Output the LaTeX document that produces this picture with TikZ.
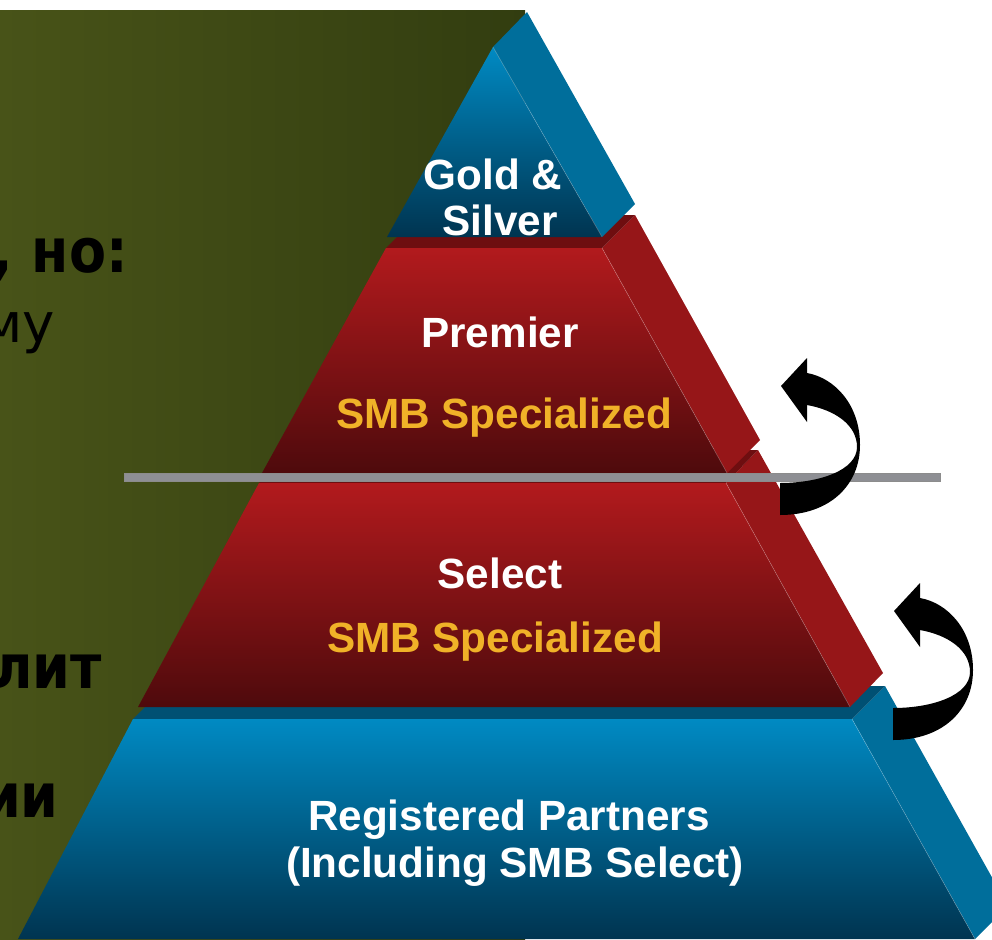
\documentclass[tikz,border=0pt]{standalone}
\usepackage{fontspec}
\setmainfont{Liberation Sans}
\newfontfamily\cyrfont{DejaVu Sans}
\newfontfamily\cyrnarrow[FakeStretch=0.88]{DejaVu Sans}
\usetikzlibrary{positioning}

\definecolor{olivel}{RGB}{72,83,24}
\definecolor{olived}{RGB}{50,61,16}
\definecolor{redtop}{RGB}{178,26,29}
\definecolor{redmid}{RGB}{135,20,22}
\definecolor{redbot}{RGB}{78,10,12}
\definecolor{redside}{RGB}{150,22,24}
\definecolor{redcap}{RGB}{110,14,16}
\definecolor{bluetop}{RGB}{0,138,195}
\definecolor{bluemid}{RGB}{0,102,148}
\definecolor{bluebot}{RGB}{0,52,80}
\definecolor{blueside}{RGB}{0,110,155}
\definecolor{bluecap}{RGB}{0,80,115}
\definecolor{rulegray}{RGB}{142,143,148}
\definecolor{smbgold}{RGB}{240,178,40}

\begin{document}
\begin{tikzpicture}[
    x=0.75pt, y=-0.75pt,
    redfront/.style={top color=redtop, middle color=redmid, bottom color=redbot},
    bluefront/.style={top color=bluetop, middle color=bluemid, bottom color=bluebot},
    edgeline/.style={white, opacity=0.3, line width=0.4pt},
    tierlabel/.style={text=white, font=\bfseries\fontsize{31.7}{34.5}\selectfont, inner sep=0pt, anchor=base},
    smblabel/.style={tierlabel, text=smbgold},
    cyrbold/.style={font=\cyrnarrow\bfseries\fontsize{46}{50}\selectfont, inner sep=0pt, anchor=base east},
    cyrplain/.style={font=\cyrfont\fontsize{41}{45}\selectfont, inner sep=0pt, anchor=base east}
]
    \useasboundingbox (0,0) rectangle (992,939);
    \clip (0,0) rectangle (992,939);

    \shade[left color=olivel, right color=olived] (0,10) rectangle (525,939);

    \node[cyrbold](but) at (128,272){, но:};
    \node[cyrplain](mu) at (55,342){му};
    \node[cyrbold](lit) at (102,688){лит};
    \node[cyrbold](ii) at (59,817){ии};

    \fill[blueside] (852,719) -- (885,686) -- (1008,906) -- (975,939) -- cycle;
    \fill[bluecap] (133,719) -- (852,719) -- (885,686) -- (166,686) -- cycle;
    \shade[bluefront] (133,719) -- (852,719) -- (975,939) -- (18,939) -- cycle;
    \draw[edgeline] (852,719) -- (975,939);

    \fill[redside] (726,483) -- (758,450) -- (883,673) -- (850,707) -- cycle;
    \fill[redcap] (259,483) -- (726,483) -- (758,450) -- (291,450) -- cycle;
    \shade[redfront] (259,483) -- (726,483) -- (850,707) -- (138,707) -- cycle;
    \draw[edgeline] (726,483) -- (850,707);

    \fill[redside] (602,248) -- (635,215) -- (760,440) -- (727,473) -- cycle;
    \fill[redcap] (386,248) -- (602,248) -- (635,215) -- (419,215) -- cycle;
    \shade[redfront] (386,248) -- (602,248) -- (727,473) -- (262,473) -- cycle;
    \draw[edgeline] (602,248) -- (727,473);

    \fill[blueside] (493,47) -- (527,12) -- (635,204) -- (602,237) -- cycle;
    \shade[bluefront] (493,47) -- (602,237) -- (387,237) -- cycle;
    \draw[edgeline] (493,47) -- (602,237);

    \fill[rulegray, draw=black!45, line width=0.3pt] (124,473) rectangle (940,481);

    \node[tierlabel](gold) at (493,189){Gold \&};
    \node[tierlabel](silver) at (500,235){Silver};
    \node[tierlabel](premier) at (500,347){Premier};
    \node[smblabel](premiersmb) at (504,428){SMB Specialized};
    \node[tierlabel](select) at (500,588){Select};
    \node[smblabel](selectsmb) at (495,652){SMB Specialized};
    \node[tierlabel](registered) at (509,830){Registered Partners};
    \node[tierlabel](including) at (515,877){(Including SMB Select)};

    \foreach \dx/\dy in {0/0, 113/225}{
        \fill[black, shift={(\dx,\dy)}] (780,515)
            .. controls (830,515) and (860,485) .. (860,445)
            .. controls (860,405) and (835,378) .. (807,373)
            -- (807,358) -- (781,386) -- (807,422) -- (807,405)
            .. controls (835,410) and (857,425) .. (857,447)
            .. controls (857,470) and (820,483) .. (780,483) -- cycle;
    }
\end{tikzpicture}
\end{document}
